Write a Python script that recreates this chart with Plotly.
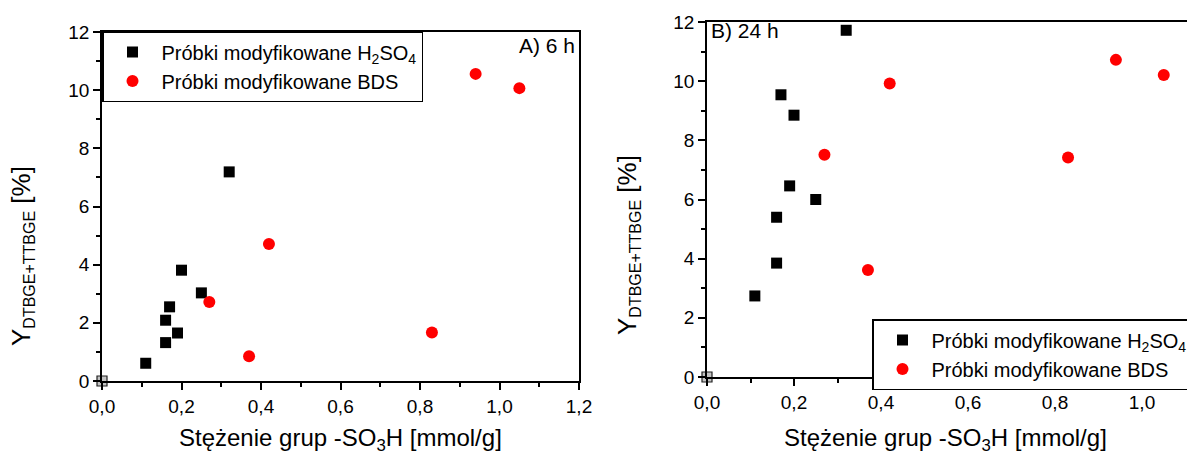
import plotly.graph_objects as go

# ---------- data ----------
# Panel A (6 h)
a_h2so4_x = [0.11, 0.16, 0.16, 0.17, 0.19, 0.20, 0.25, 0.32]
a_h2so4_y = [0.61, 1.32, 2.09, 2.55, 1.65, 3.81, 3.03, 7.19]
a_bds_x = [0.27, 0.37, 0.42, 0.83, 0.94, 1.05]
a_bds_y = [2.72, 0.85, 4.71, 1.67, 10.56, 10.07]

# Panel B (24 h)
b_h2so4_x = [0.11, 0.16, 0.16, 0.19, 0.25, 0.20, 0.17, 0.32]
b_h2so4_y = [2.74, 3.85, 5.40, 6.46, 6.00, 8.85, 9.54, 11.72]
b_bds_x = [0.27, 0.37, 0.42, 0.83, 0.94, 1.05]
b_bds_y = [7.51, 3.62, 9.92, 7.42, 10.72, 10.21]

# reference point (unmodified sample)
origin_x = [0.0]
origin_y = [0.0]

name_h2so4 = "Próbki modyfikowane H<sub>2</sub>SO<sub>4</sub>"
name_bds = "Próbki modyfikowane BDS"
x_title = "Stężenie grup -SO<sub>3</sub>H [mmol/g]"
y_title = "Y<sub><span style='font-size:16px'>DTBGE+TTBGE</span></sub> [%]"
x_tick_vals = [0.0, 0.2, 0.4, 0.6, 0.8, 1.0, 1.2]
y_tick_vals = [0, 2, 4, 6, 8, 10, 12]

W, H = 1187, 454
FONT = "Liberation Sans, Arial, sans-serif"


def px_x(p):
    return p / W


def px_y(p):
    return 1 - p / H


fig = go.Figure()

sq = dict(symbol="square", size=11, color="#000000", line=dict(width=0))
ci = dict(symbol="circle", size=12, color="#ff0000", line=dict(width=0))
og = dict(symbol="square", size=10, color="#c4c4c4", line=dict(width=1.2, color="#222222"))

fig.add_trace(go.Scatter(x=a_h2so4_x, y=a_h2so4_y, mode="markers", marker=sq,
                         name=name_h2so4, xaxis="x", yaxis="y", legend="legend", cliponaxis=False))
fig.add_trace(go.Scatter(x=a_bds_x, y=a_bds_y, mode="markers", marker=ci,
                         name=name_bds, xaxis="x", yaxis="y", legend="legend", cliponaxis=False))
fig.add_trace(go.Scatter(x=origin_x, y=origin_y, mode="markers", marker=og, showlegend=False,
                         xaxis="x", yaxis="y", cliponaxis=False))

fig.add_trace(go.Scatter(x=b_h2so4_x, y=b_h2so4_y, mode="markers", marker=sq,
                         name=name_h2so4, xaxis="x2", yaxis="y2", legend="legend2", cliponaxis=False))
fig.add_trace(go.Scatter(x=b_bds_x, y=b_bds_y, mode="markers", marker=ci,
                         name=name_bds, xaxis="x2", yaxis="y2", legend="legend2", cliponaxis=False))
fig.add_trace(go.Scatter(x=origin_x, y=origin_y, mode="markers", marker=og, showlegend=False,
                         xaxis="x2", yaxis="y2", cliponaxis=False))

tickfont = dict(family=FONT, size=19, color="#000000")

xcommon = dict(showgrid=False, zeroline=False, showline=True, linecolor="#000000", linewidth=1.5,
               ticks="outside", ticklen=7, tickwidth=1.5, tickcolor="#000000",
               tickvals=x_tick_vals, tickformat=".1f", tickfont=tickfont,
               minor=dict(ticks="outside", ticklen=4, tickwidth=1.5, tickcolor="#000000", dtick=0.1,
                          showgrid=False))
ycommon = dict(showgrid=False, zeroline=False, showline=True, linecolor="#000000", linewidth=1.5,
               ticks="outside", ticklen=7, tickwidth=1.5, tickcolor="#000000",
               tickvals=y_tick_vals, tickfont=tickfont, range=[0, 12],
               minor=dict(ticks="outside", ticklen=4, tickwidth=1.5, tickcolor="#000000", dtick=1,
                          showgrid=False))

fig.update_layout(
    width=W, height=H,
    margin=dict(l=0, r=0, t=0, b=0, pad=0, autoexpand=False),
    paper_bgcolor="white", plot_bgcolor="white",
    separators=", ",
    font=dict(family=FONT, color="#000000"),
    xaxis=dict(domain=[px_x(102), px_x(579)], range=[0, 1.2], anchor="y", mirror=True, **xcommon),
    yaxis=dict(domain=[px_y(381), px_y(32)], anchor="x", mirror=True, **ycommon),
    xaxis2=dict(domain=[px_x(707), 1.0], range=[0, (W - 707) / 435.0], anchor="y2", mirror=True, **xcommon),
    yaxis2=dict(domain=[px_y(377), px_y(22)], anchor="x2", mirror=False, **ycommon),
    legend=dict(x=px_x(102), y=px_y(31), xanchor="left", yanchor="top", xref="paper", yref="paper",
                bgcolor="white", bordercolor="#000000", borderwidth=1.5,
                font=dict(family=FONT, size=20, color="#000000"), itemwidth=48, tracegroupgap=0),
    legend2=dict(x=px_x(872), y=px_y(319), xanchor="left", yanchor="top", xref="paper", yref="paper",
                 bgcolor="white", bordercolor="#000000", borderwidth=1.5,
                 font=dict(family=FONT, size=20, color="#000000"), itemwidth=48, tracegroupgap=0),
    showlegend=True,
)

ann = []
ann.append(dict(text="A) 6 h", x=px_x(577), y=px_y(45), xref="paper", yref="paper",
                xanchor="right", yanchor="middle", showarrow=False,
                font=dict(family=FONT, size=21, color="#000000")))
ann.append(dict(text="B) 24 h", x=px_x(709), y=px_y(31), xref="paper", yref="paper",
                xanchor="left", yanchor="middle", showarrow=False,
                font=dict(family=FONT, size=21, color="#000000")))
ann.append(dict(text=y_title, x=px_x(22), y=px_y(256), xref="paper", yref="paper",
                xanchor="center", yanchor="middle", textangle=-90, showarrow=False,
                font=dict(family=FONT, size=26, color="#000000")))
ann.append(dict(text=y_title, x=px_x(628), y=px_y(245), xref="paper", yref="paper",
                xanchor="center", yanchor="middle", textangle=-90, showarrow=False,
                font=dict(family=FONT, size=26, color="#000000")))
ann.append(dict(text=x_title, x=px_x(340), y=px_y(439), xref="paper", yref="paper",
                xanchor="center", yanchor="middle", showarrow=False,
                font=dict(family=FONT, size=24, color="#000000")))
ann.append(dict(text=x_title, x=px_x(945), y=px_y(439), xref="paper", yref="paper",
                xanchor="center", yanchor="middle", showarrow=False,
                font=dict(family=FONT, size=24, color="#000000")))
fig.update_layout(annotations=ann)

fig.write_html("out.html")
